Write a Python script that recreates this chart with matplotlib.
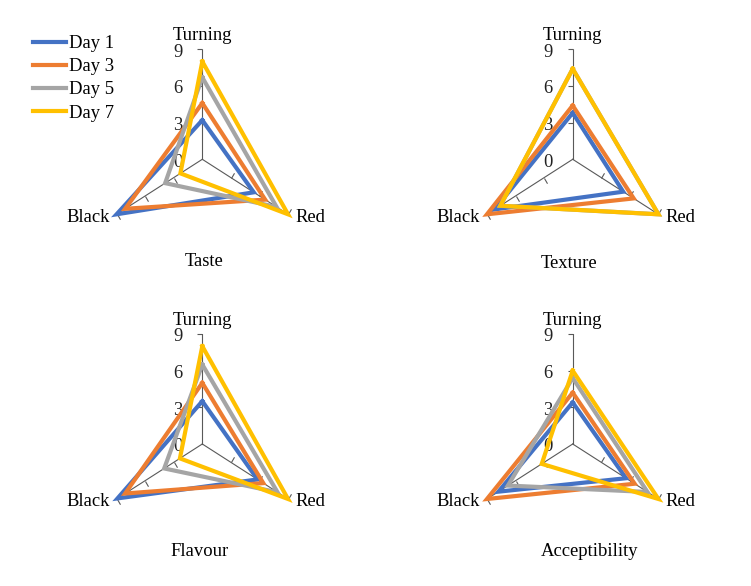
import numpy as np
import matplotlib
matplotlib.use("Agg")
import matplotlib.pyplot as plt
from matplotlib.lines import Line2D
from matplotlib.markers import MarkerStyle
from matplotlib.path import Path

plt.rcParams['font.family'] = ['Liberation Serif', 'DejaVu Serif']

# ---------------- data ----------------
categories = ["Turning", "Red", "Black"]
series_names = ["Day 1", "Day 3", "Day 5", "Day 7"]
panel_titles = ["Taste", "Texture", "Flavour", "Acceptibility"]
r_ticks = [0, 3, 6, 9]

taste = {
    "Day 1": [3.2, 5.4, 9.0],
    "Day 3": [4.6, 6.6, 8.1],
    "Day 5": [6.7, 7.8, 3.9],
    "Day 7": [8.0, 9.0, 2.3],
}
texture = {
    "Day 1": [3.8, 5.3, 8.2],
    "Day 3": [4.4, 6.4, 9.0],
    "Day 5": [7.4, 9.0, 7.6],
    "Day 7": [7.4, 9.0, 7.6],
}
flavour = {
    "Day 1": [3.5, 5.8, 8.9],
    "Day 3": [5.0, 6.4, 8.1],
    "Day 5": [6.5, 7.9, 4.0],
    "Day 7": [8.0, 9.0, 2.35],
}
acceptibility = {
    "Day 1": [3.4, 5.6, 7.8],
    "Day 3": [4.2, 6.5, 9.0],
    "Day 5": [5.4, 7.85, 6.8],
    "Day 7": [6.0, 9.0, 3.25],
}
panels_data = [taste, texture, flavour, acceptibility]

colors = {"Day 1": "#4472C4", "Day 3": "#ED7D31", "Day 5": "#A5A5A5", "Day 7": "#FFC000"}

# ---------------- layout ----------------
W, H = 751, 586
fig = plt.figure(figsize=(W / 100, H / 100), dpi=100)

rx, ry = 99, 110  # horizontal / vertical radius in px
centers = [(202.3, 159.3), (572.7, 159.3), (202.3, 444.0), (572.7, 444.0)]
title_pos = [(204, 262), (569, 264), (200, 552), (590, 552)]

angles = np.deg2rad([0, 120, 240])
tick_dirs = [(-1.0, 0.0), (0.5, 0.866), (0.5, -0.866)]
FS = 13.4
axis_color = "#595959"

for k, (data, (cx, cy)) in enumerate(zip(panels_data, centers)):
    left = (cx - rx) / W
    bottom = (H - cy - ry) / H
    ax = fig.add_axes([left, bottom, 2 * rx / W, 2 * ry / H], projection='polar')
    ax.set_theta_zero_location('N')
    ax.set_theta_direction(-1)
    ax.set_aspect('auto')
    ax.set_ylim(0, 9)
    ax.grid(False)
    ax.set_xticks([])
    ax.set_yticks([])
    ax.spines['polar'].set_visible(False)
    ax.patch.set_alpha(0)

    # spokes and tick marks
    for th, (dx, dy) in zip(angles, tick_dirs):
        ax.plot([th, th], [0, 9], color=axis_color, lw=0.8, zorder=1)
        mk = MarkerStyle(Path([(0, 0), (dx, dy)], [Path.MOVETO, Path.LINETO]))
        ax.plot([th] * 3, [3, 6, 9], linestyle='none', marker=mk,
                markersize=7.5, markeredgecolor=axis_color, markeredgewidth=0.8,
                zorder=1, clip_on=False)

    # series
    for name in series_names:
        vals = data[name]
        th = list(angles) + [angles[0]]
        rr = list(vals) + [vals[0]]
        ax.plot(th, rr, color=colors[name], lw=3.0, solid_joinstyle='miter',
                zorder=3, clip_on=False)

    # radial labels
    for t in r_ticks:
        ax.annotate(str(t), xy=(0, t), xytext=(-14.5, -2), textcoords='offset points',
                    ha='right', va='center', fontsize=FS, color='#222222',
                    annotation_clip=False, zorder=2)

    # category labels
    ax.annotate(categories[0], xy=(angles[0], 9), xytext=(0, 10),
                textcoords='offset points', ha='center', va='center',
                fontsize=FS, annotation_clip=False)
    ax.annotate(categories[1], xy=(angles[1], 9), xytext=(5, -2),
                textcoords='offset points', ha='left', va='center',
                fontsize=FS, annotation_clip=False)
    ax.annotate(categories[2], xy=(angles[2], 9), xytext=(-5, -2),
                textcoords='offset points', ha='right', va='center',
                fontsize=FS, annotation_clip=False)

    tx, ty = title_pos[k]
    fig.text(tx / W, 1 - ty / H, panel_titles[k], ha='center', va='center', fontsize=FS)

# legend
handles = [Line2D([0], [0], color=colors[n], lw=3.0) for n in series_names]
fig.legend(handles, series_names, loc='upper left',
           bbox_to_anchor=(33 / W, 1 - 35 / H), frameon=False, fontsize=FS,
           handlelength=1.75, handletextpad=0.2, labelspacing=0.33,
           borderaxespad=0, borderpad=0)

fig.savefig("out.png", dpi=100)
